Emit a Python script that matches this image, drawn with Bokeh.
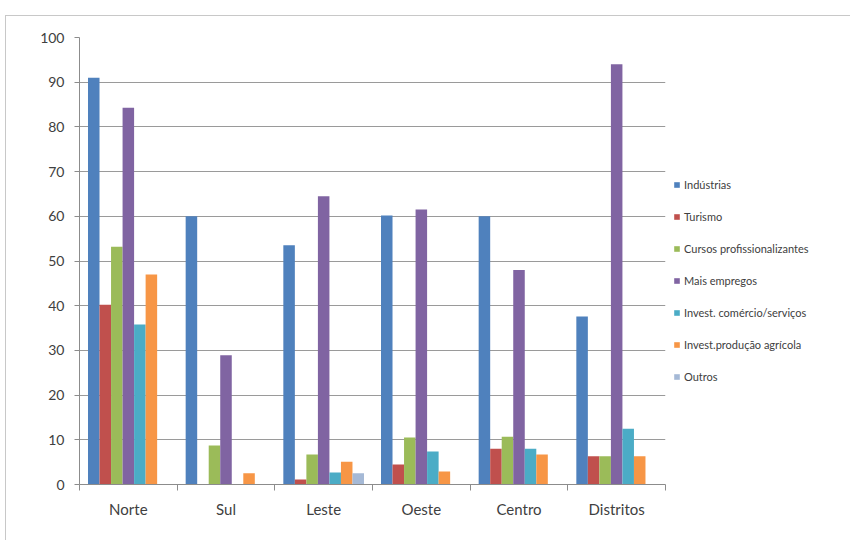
from bokeh.plotting import figure
from bokeh.models import (Range1d, FixedTicker, Legend, LegendItem, ColumnDataSource)
from bokeh.transform import dodge
from bokeh.embed import file_html
from bokeh.resources import INLINE

regions = ["Norte", "Sul", "Leste", "Oeste", "Centro", "Distritos"]
series = ["Indústrias", "Turismo", "Cursos profissionalizantes", "Mais empregos",
          "Invest. comércio/serviços", "Invest.produção agrícola", "Outros"]
industrias = [91, 60, 53.5, 60.2, 60, 37.6]
turismo = [40.2, 0, 1.1, 4.5, 8, 6.3]
cursos = [53.2, 8.7, 6.7, 10.5, 10.7, 6.3]
mais_empregos = [84.3, 28.9, 64.5, 61.5, 48, 94]
invest_comercio = [35.8, 0, 2.7, 7.4, 8, 12.5]
invest_agricola = [47, 2.5, 5.1, 2.9, 6.7, 6.3]
outros = [0, 0, 2.5, 0, 0, 0]
y_ticks = [0, 10, 20, 30, 40, 50, 60, 70, 80, 90, 100]

values = [industrias, turismo, cursos, mais_empregos, invest_comercio, invest_agricola, outros]
colors = ["#4F81BD", "#C0504D", "#9BBB59", "#8064A2", "#4BACC6", "#F79646", "#A5B9D6"]

FONT = "Lato"
TXT = "#404040"

xc = [i + 0.5 for i in range(len(regions))]
data = {"x": xc}
for k, v in enumerate(values):
    data[f"s{k}"] = v
src = ColumnDataSource(data)

p = figure(frame_width=586, frame_height=447, output_backend="svg", toolbar_location=None,
           x_range=Range1d(0, len(regions)), y_range=Range1d(0, 100),
           min_border_left=73, min_border_right=0, min_border_top=21, min_border_bottom=57)
p.margin = (15, 0, 0, 5)
p.styles = {"border-top": "1px solid #c8c8c8", "border-left": "1px solid #c8c8c8"}
p.outline_line_color = None
p.background_fill_color = "white"
p.border_fill_color = "white"

bw = 0.118
items = []
for k, name in enumerate(series):
    r = p.vbar(x=dodge("x", (k - 3) * bw, range=p.x_range), top=f"s{k}", width=bw,
               source=src, fill_color=colors[k], line_color=None)
    items.append(LegendItem(label=name, renderers=[r]))

# x axis
xa = p.xaxis[0]
xa.ticker = FixedTicker(ticks=xc, minor_ticks=list(range(len(regions) + 1)))
xa.major_label_overrides = {c: r for c, r in zip(xc, regions)}
xa.major_tick_line_color = None
xa.minor_tick_in = 0
xa.minor_tick_out = 6
xa.minor_tick_line_color = "#8c8c8c"
xa.axis_line_color = "#8c8c8c"
xa.major_label_text_font = FONT
xa.major_label_text_font_size = "15px"
xa.major_label_text_color = TXT
xa.major_label_standoff = 9

ya = p.yaxis[0]
ya.ticker = FixedTicker(ticks=y_ticks)
ya.minor_tick_line_color = None
ya.major_tick_in = 0
ya.major_tick_out = 5
ya.major_tick_line_color = "#8c8c8c"
ya.axis_line_color = "#8c8c8c"
ya.major_label_text_font = FONT
ya.major_label_text_font_size = "14px"
ya.major_label_text_color = TXT
ya.major_label_standoff = 10

p.xgrid.grid_line_color = None
p.ygrid.ticker = FixedTicker(ticks=y_ticks)
p.ygrid.grid_line_color = "#9a9a9a"
p.ygrid.grid_line_width = 1

legend = Legend(items=items, location=(8, 101), border_line_color=None,
                background_fill_alpha=0, padding=0, margin=0,
                glyph_width=7, glyph_height=7, label_height=12, spacing=19,
                label_standoff=4, label_text_font=FONT, label_text_font_size="11px",
                label_text_color=TXT)
p.add_layout(legend, "right")

open("out.html", "w").write(file_html(p, INLINE))
